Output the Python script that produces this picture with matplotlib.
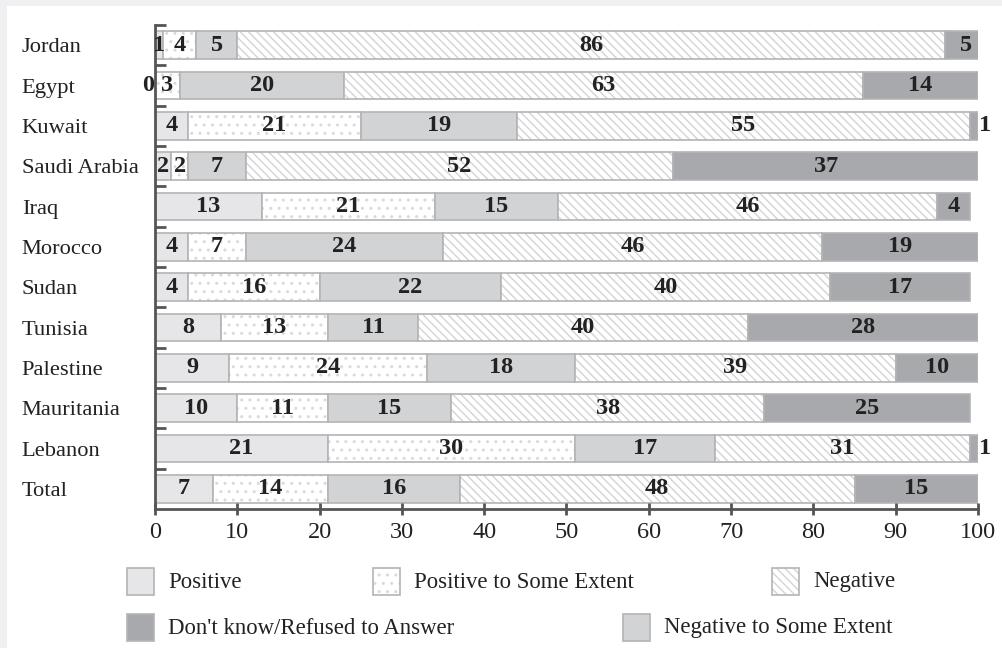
from matplotlib import pyplot as plt
from matplotlib.patches import Rectangle
import numpy as np

plt.rcParams["font.family"] = "Liberation Serif"
plt.rcParams["font.size"] = 16
plt.rcParams["hatch.linewidth"] = 1.0

countries = ["Jordan", "Egypt", "Kuwait", "Saudi Arabia", "Iraq", "Morocco", "Sudan",
             "Tunisia", "Palestine", "Mauritania", "Lebanon", "Total"]

positive = [1, 0, 4, 2, 13, 4, 4, 8, 9, 10, 21, 7]
positive_some = [4, 3, 21, 2, 21, 7, 16, 13, 24, 11, 30, 14]
negative_some = [5, 20, 19, 7, 15, 24, 22, 11, 18, 15, 17, 16]
negative = [86, 63, 55, 52, 46, 46, 40, 40, 39, 38, 31, 48]
dont_know = [5, 14, 1, 37, 4, 19, 17, 28, 10, 25, 1, 15]

series = [
    ("Positive", positive, "#e6e6e8", None, None),
    ("Positive to Some Extent", positive_some, "white", "..", "#dadadc"),
    ("Negative to Some Extent", negative_some, "#d2d3d5", None, None),
    ("Negative", negative, "white", "\\\\\\\\", "#d4d4d6"),
    ("Don't know/Refused to Answer", dont_know, "#a8a9ac", None, None),
]

edge = "#b4b4b6"
axis_col = "#555555"
text_col = "#222222"

fig = plt.figure(figsize=(10.03, 6.48), dpi=100, facecolor="#f0f0f2")
fig.add_artist(Rectangle((7 / 1003, 0), 1, 1 - 6 / 648, transform=fig.transFigure,
                         facecolor="white", edgecolor="none", zorder=-10))
ax = fig.add_axes([155 / 1003, 1 - 509 / 648, (978 - 155) / 1003, (509 - 25) / 648])
ax.set_facecolor("none")

y = np.arange(len(countries))
left = np.zeros(len(countries))
height = 0.69

for name, vals, color, hatch, hcolor in series:
    vals = np.array(vals, dtype=float)
    if hatch:
        ax.barh(y, vals, left=left, height=height, color=color, hatch=hatch,
                edgecolor=hcolor, linewidth=0)
        ax.barh(y, vals, left=left, height=height, color="none", edgecolor=edge, linewidth=1.2)
    else:
        ax.barh(y, vals, left=left, height=height, color=color, edgecolor=edge, linewidth=1.2)
    for i, v in enumerate(vals):
        xc = left[i] + v / 2
        ha = "center"
        if v == 0:
            xc, ha = left[i] - 0.1, "right"
        elif v <= 1 and name.startswith("Don't"):
            xc, ha = left[i] + v + 0.1, "left"
        ax.text(xc, i, f"{int(v)}", ha=ha, va="center", fontsize=17.5, fontweight="bold",
                color=text_col, clip_on=False)
    left += vals

ax.set_xlim(0, 100)
ax.set_ylim(len(countries) - 0.5, -0.5)

ax.set_xticks(np.arange(0, 101, 10))
ax.set_yticks(y)
ax.set_yticklabels(countries, ha="left", fontsize=16.2)
ax.set_yticks(np.arange(-0.5, len(countries) - 0.5, 1), minor=True)
ax.tick_params(axis="y", which="major", length=0, pad=96, colors=text_col)
ax.tick_params(axis="y", which="minor", length=8, width=2, direction="in", color=axis_col)
ax.tick_params(axis="x", length=8, width=2, direction="inout", color=axis_col,
               labelcolor=text_col, labelsize=17.5, pad=5)

for s in ["top", "right"]:
    ax.spines[s].set_visible(False)
for s in ["left", "bottom"]:
    ax.spines[s].set_color(axis_col)
    ax.spines[s].set_linewidth(2)

# legend laid out in two rows below the axis
legend_items = [
    (0, 127, 568), (1, 373, 568), (3, 772, 568),
    (4, 127, 614), (2, 623, 614),
]
for idx, px, py in legend_items:
    name, vals, color, hatch, hcolor = series[idx]
    w, h = 27 / 1003, 27 / 648
    x0, y0 = px / 1003, 1 - (py + 27) / 648
    if hatch:
        fig.add_artist(Rectangle((x0, y0), w, h, transform=fig.transFigure, facecolor=color,
                                 hatch=hatch, edgecolor=hcolor, linewidth=0))
        fig.add_artist(Rectangle((x0, y0), w, h, transform=fig.transFigure, facecolor="none",
                                 edgecolor=edge, linewidth=1.2))
    else:
        fig.add_artist(Rectangle((x0, y0), w, h, transform=fig.transFigure, facecolor=color,
                                 edgecolor=edge, linewidth=1.2))
    fig.text((px + 41) / 1003, 1 - (py + 14) / 648, name, ha="left", va="center",
             fontsize=16.4, color=text_col)

plt.savefig("out.png", dpi=100, facecolor=fig.get_facecolor())
